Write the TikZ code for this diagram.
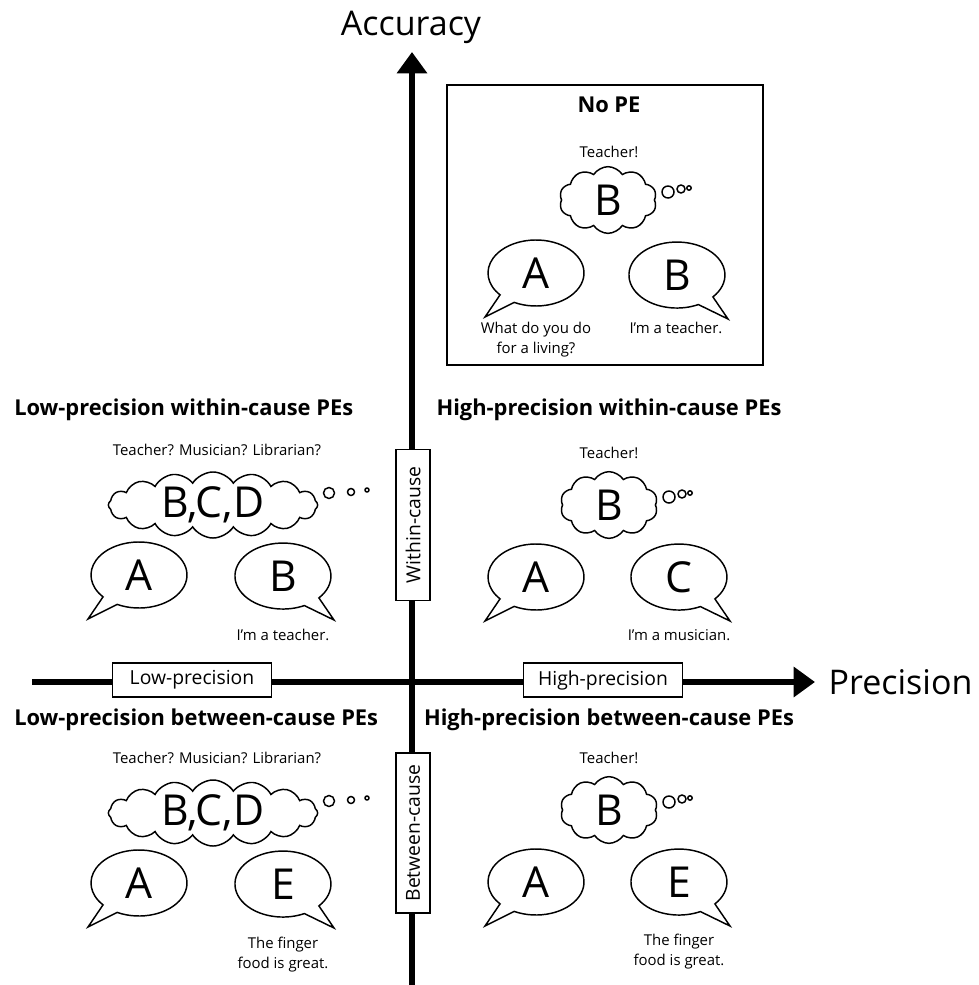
\documentclass[tikz,border=0pt]{standalone}
\usepackage{fontspec}
\setmainfont{Open Sans}
\usetikzlibrary{arrows.meta,positioning,shapes.symbols,calc}

% speech bubble with its tail down left / down right: name, centre, letter
\newcommand{\talkleft}[3]{%
  \draw[bubble] (#2) ++(-21.8,-29.4) arc[start angle=243, end angle=581.5, x radius=48, y radius=33]
    -- ($(#2)+(-51,-44)$) -- cycle;
  \node[letter] (#1) at (#2) {#3};
}
\newcommand{\talkright}[3]{%
  \draw[bubble] (#2) ++(35.9,-21.9) arc[start angle=-41.5, end angle=296.5, x radius=48, y radius=33]
    -- ($(#2)+(51,-44)$) -- cycle;
  \node[letter] (#1) at (#2) {#3};
}

\begin{document}
\begin{tikzpicture}[x=0.75pt, y=0.75pt,
  axis/.style={line width=4pt, -{Triangle[length=16pt, width=22pt]}},
  axistitle/.style={font=\fontsize{25.5}{29}\selectfont},
  axislabel/.style={draw, fill=white, line width=1.1pt, inner sep=1pt,
    minimum height=25.5pt, font=\fontsize{14.5}{17}\selectfont},
  heading/.style={font=\fontsize{16.4}{19}\selectfont\bfseries, inner sep=0},
  smalltext/.style={font=\fontsize{11.2}{15}\selectfont, align=center, inner sep=0},
  letter/.style={font=\fontsize{32}{34}\selectfont, inner sep=0},
  bubble/.style={draw, fill=white, line width=1.1pt},
  thought/.style={cloud, draw, fill=white, line width=1.1pt, cloud puffs=#1,
    cloud puff arc=115, cloud ignores aspect, inner sep=0,
    font=\fontsize{32}{34}\selectfont},
  thought/.default=10]
  \useasboundingbox (0,0) rectangle (978,-985);

  % axes
  \coordinate (ybot) at (412,-985);
  \coordinate (ytop) at (412,-52);
  \coordinate (xleft) at (32,-682);
  \coordinate (xright) at (815,-682);
  \draw[axis] (ybot) -- (ytop);
  \draw[axis] (xleft) -- (xright);
  \node[axistitle] (acc) at (411,-27) {Accuracy};
  \node[axistitle, anchor=west] (prec) at (824,-682) {Precision};
  \node[axislabel, minimum width=119pt] (lowbox) at (192,-680) {Low-precision};
  \node[axislabel, minimum width=119pt] (highbox) at (603,-680) {High-precision};
  \node[axislabel, rotate=90, minimum width=113pt] (withinbox) at (413,-525) {Within-cause};
  \node[axislabel, rotate=90, minimum width=120pt] (betweenbox) at (413,-833) {Between-cause};

  % headings
  \node[heading, anchor=west] (lwhead) at (14,-410) {Low-precision within-cause PEs};
  \node[heading] (hwhead) at (609,-410) {High-precision within-cause PEs};
  \node[heading, anchor=west] (lbhead) at (14,-720) {Low-precision between-cause PEs};
  \node[heading] (hbhead) at (609,-720) {High-precision between-cause PEs};

  % No PE
  \draw[line width=1.4pt] (447,-85) rectangle (763,-365);
  \node[heading] (nopehead) at (609,-105) {No PE};
  \node[smalltext] (nopethink) at (609,-152) {Teacher!};
  \node[thought, minimum width=73pt, minimum height=50pt] (nopecloud) at (608,-200) {B};
  \foreach \dx/\dy/\r in {60/8/6, 73/11/4, 81/12/2.2}
    \draw[bubble] ($(nopecloud.center)+(\dx,\dy)$) circle[radius=\r];
  \talkleft{nopeA}{536,-273}{A}
  \talkright{nopeB}{677,-275}{B}
  \node[smalltext, anchor=north] (nopeask) at (536,-322) {What do you do\\for a living?};
  \node[smalltext, anchor=north] (nopeans) at (676,-322) {I’m a teacher.};

  % low precision column
  \foreach \q/\s/\other/\cap in {lw/0/B/{I’m a teacher.}, lb/308/E/{The finger\\food is great.}} {
    \node[smalltext] (\q think) at (217,-450-\s) {Teacher? Musician? Librarian?};
    \node[thought=16, minimum width=157pt, minimum height=49pt] (\q cloud) at (213,-505-\s) {B,C,D};
    \foreach \dx/\dy/\r in {116/12/5.5, 138/13/3.5, 154/15/2}
      \draw[bubble] ($(\q cloud.center)+(\dx,\dy)$) circle[radius=\r];
    \talkleft{\q A}{139,-575-\s}{A}
    \talkright{\q B}{283,-576-\s}{\other}
    \node[smalltext, anchor=north] (\q cap) at (283,-629-\s) {\cap};
  }

  % high precision column
  \foreach \q/\s/\other/\cap in {hw/0/C/{I’m a musician.}, hb/305/E/{The finger\\food is great.}} {
    \node[smalltext] (\q think) at (609,-453-\s) {Teacher!};
    \node[thought, minimum width=73pt, minimum height=50pt] (\q cloud) at (609,-505-\s) {B};
    \foreach \dx/\dy/\r in {60/8/6, 73/11/4, 81/12/2.2}
      \draw[bubble] ($(\q cloud.center)+(\dx,\dy)$) circle[radius=\r];
    \talkleft{\q A}{536,-577-\s}{A}
    \talkright{\q B}{679,-577-\s}{\other}
    \node[smalltext, anchor=north] (\q cap) at (679,-629-\s) {\cap};
  }
\end{tikzpicture}
\end{document}
